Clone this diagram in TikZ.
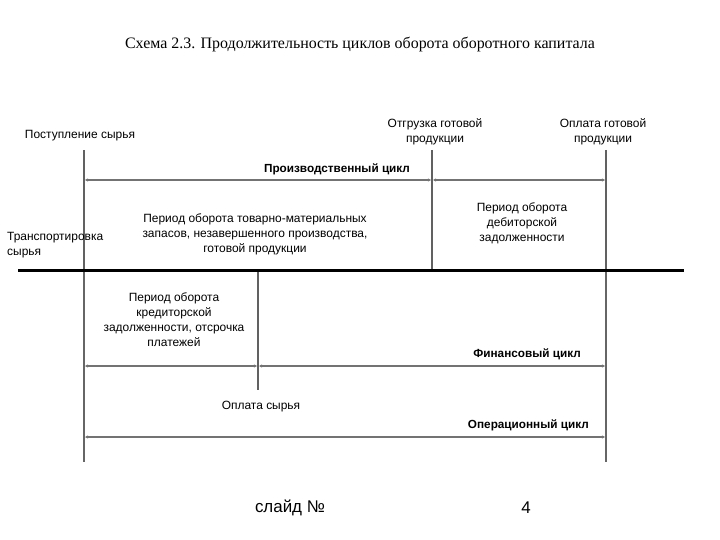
\documentclass[tikz,border=0pt]{standalone}
\usepackage{fontspec}
\setmainfont{Liberation Sans}
\newfontfamily\titlefont{Liberation Serif}
\usetikzlibrary{arrows.meta}
\begin{document}
\begin{tikzpicture}[x=1bp,y=-1bp,
  lbl/.style={font=\fontsize{12}{15}\selectfont, align=center, inner sep=0pt, text=black},
  cyc/.style={font=\bfseries\fontsize{11.8}{14}\selectfont, inner sep=0pt},
  vthick/.style={draw=black!62, line width=2.6bp},
  vthin/.style={draw=black!60, line width=1.6bp},
  span/.style={draw=black!55, line width=1.6bp, {Stealth[length=3bp,width=3bp]}-{Stealth[length=3bp,width=3bp]}, shorten >=1bp, shorten <=1bp}]
\useasboundingbox (0,0) rectangle (720,540);
% coordinates
\coordinate (A1) at (84,150); \coordinate (A2) at (84,270); \coordinate (A3) at (84,462);
\coordinate (B1) at (432,150); \coordinate (B2) at (432,270);
\coordinate (C1) at (606,150); \coordinate (C2) at (606,270); \coordinate (C3) at (606,462);
\coordinate (D1) at (258,270); \coordinate (D2) at (258,390);
\coordinate (L) at (18,270); \coordinate (R) at (684,270);
\coordinate (P1) at (84,180); \coordinate (P2) at (432,180); \coordinate (P3) at (606,180);
\coordinate (F1) at (84,366); \coordinate (F2) at (258,366); \coordinate (F3) at (606,366);
\coordinate (O1) at (84,437); \coordinate (O2) at (606,437);
% title
\node[font=\titlefont\fontsize{16}{18}\selectfont, inner sep=0pt] (title) at (360,44) {Схема 2.3. Продолжительность циклов оборота оборотного капитала};
% vertical lines
\draw[vthin] (A2) -- (A3);
\draw[vthin] (C2) -- (C3);
\draw[vthick] (A1) -- (A2);
\draw[vthick] (B1) -- (B2);
\draw[vthick] (C1) -- (C2);
\draw[vthick] (D1) -- (D2);
% main axis
\draw[line width=3bp, black] (L) -- (R);
% spans
\draw[span] (P1) -- (P2);
\draw[span] (P2) -- (P3);
\draw[span] (F1) -- (F2);
\draw[span] (F2) -- (F3);
\draw[span] (O1) -- (O2);
% labels
\node[lbl] (postup) at (80,136) {Поступление сырья};
\node[lbl] (otgr) at (435,132) {Отгрузка готовой\\продукции};
\node[lbl] (oplg) at (603,132) {Оплата готовой\\продукции};
\node[cyc] (prod) at (337,169) {Производственный цикл};
\node[lbl] (tmz) at (255,234) {Период оборота товарно-материальных\\запасов, незавершенного производства,\\готовой продукции};
\node[lbl] (deb) at (522,223) {Период оборота\\дебиторской\\задолженности};
\node[lbl, align=left, anchor=west] (transp) at (7,245) {Транспортировка\\сырья};
\node[lbl] (kred) at (174,320) {Период оборота\\кредиторской\\задолженности, отсрочка\\платежей};
\node[cyc, anchor=east] (fin) at (581,354) {Финансовый цикл};
\node[lbl] (oplsyr) at (261,407) {Оплата сырья};
\node[cyc, anchor=east] (oper) at (589,425) {Операционный цикл};
% footer
\node[font=\fontsize{17}{20}\selectfont, inner sep=0pt] (slide) at (290,508) {слайд №};
\node[font=\fontsize{17}{20}\selectfont, inner sep=0pt] (num) at (526,508) {4};
\end{tikzpicture}
\end{document}
